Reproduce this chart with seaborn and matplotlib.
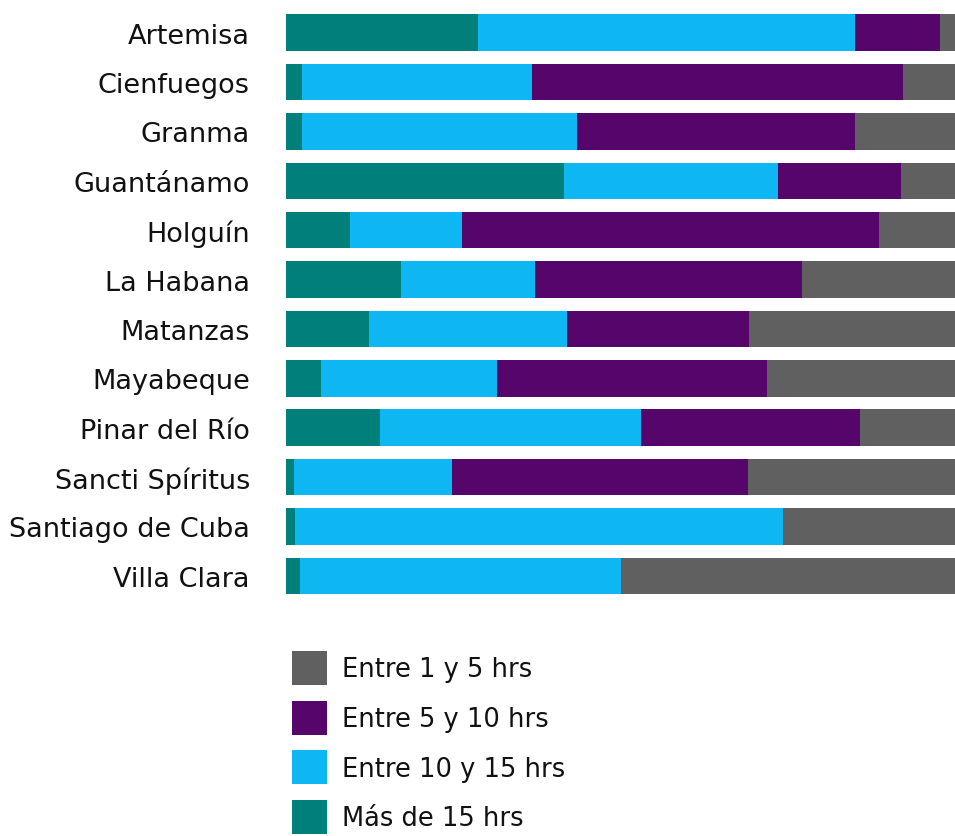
import numpy as np
import pandas as pd
import matplotlib
matplotlib.use("Agg")
import matplotlib.pyplot as plt
import seaborn as sns
from matplotlib.patches import Patch

provincias = ["Artemisa", "Cienfuegos", "Granma", "Guantánamo", "Holguín", "La Habana",
              "Matanzas", "Mayabeque", "Pinar del Río", "Sancti Spíritus",
              "Santiago de Cuba", "Villa Clara"]
mas_15 = [28.7, 2.4, 2.4, 41.6, 9.6, 17.2, 12.4, 5.2, 14.1, 1.2, 1.3, 2.1]
entre_10_15 = [56.4, 34.4, 41.1, 32.0, 16.7, 20.0, 29.6, 26.3, 39.0, 23.6, 72.9, 48.0]
entre_5_10 = [12.7, 55.5, 41.6, 18.4, 62.3, 39.9, 27.2, 40.4, 32.7, 44.2, 0.0, 0.0]
entre_1_5 = [2.2, 7.8, 14.9, 8.1, 11.4, 22.9, 30.8, 28.1, 14.2, 30.9, 25.7, 49.9]

series_labels = ["Entre 1 y 5 hrs", "Entre 5 y 10 hrs", "Entre 10 y 15 hrs", "Más de 15 hrs"]
colors = {"Entre 1 y 5 hrs": "#606060", "Entre 5 y 10 hrs": "#56066B",
          "Entre 10 y 15 hrs": "#0EB6F2", "Más de 15 hrs": "#007F7B"}

sns.set_style("white")
plt.rcParams["font.family"] = ["DejaVu Sans"]

df = pd.DataFrame({"provincia": provincias, "Más de 15 hrs": mas_15,
                   "Entre 10 y 15 hrs": entre_10_15, "Entre 5 y 10 hrs": entre_5_10,
                   "Entre 1 y 5 hrs": entre_1_5})
stack_order = ["Más de 15 hrs", "Entre 10 y 15 hrs", "Entre 5 y 10 hrs", "Entre 1 y 5 hrs"]
tot = df[stack_order].sum(axis=1)
for c in stack_order:
    df[c] = df[c] / tot * 100
cum = df[stack_order].cumsum(axis=1)

fig = plt.figure(figsize=(9.55, 8.37), dpi=100)
ax = fig.add_axes([286 / 955, 1 - 601.5 / 837, 669 / 955, (601.5 - 9) / 837])

for c in reversed(stack_order):
    sns.barplot(x=cum[c], y=df["provincia"], color=colors[c], orient="h",
                width=0.74, ax=ax, saturation=1, linewidth=0)

ax.set_xlim(0, 100)
ax.set_ylim(11.5, -0.5)
ax.set_xlabel("")
ax.set_ylabel("")
ax.set_xticks([])
ax.tick_params(axis="y", length=0, pad=26, labelsize=19.5, labelcolor="#111111")
for s in ax.spines.values():
    s.set_visible(False)

handles = [Patch(facecolor=colors[l], edgecolor="none", label=l) for l in series_labels]
leg = fig.legend(handles=handles, loc="upper left", bbox_to_anchor=(292 / 955, 1 - 652 / 837),
                 frameon=False, fontsize=18.5, handlelength=1.36, handleheight=1.67,
                 handletextpad=0.58, labelspacing=0.6, borderaxespad=0, borderpad=0)
for t in leg.get_texts():
    t.set_color("#111111")

fig.savefig("out.png", dpi=100)
